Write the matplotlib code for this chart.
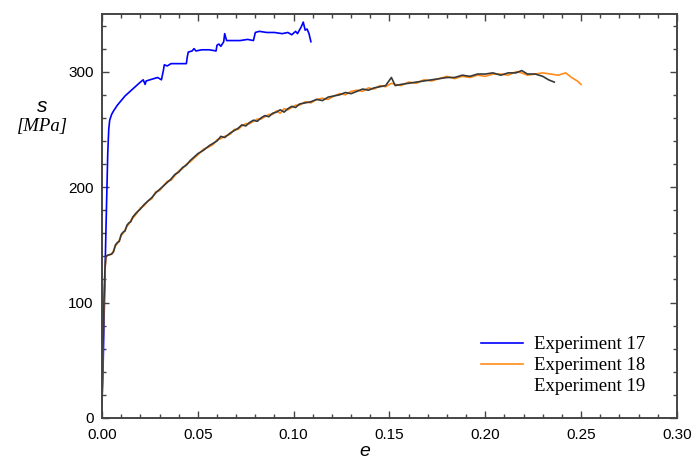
import matplotlib
matplotlib.use("Agg")
import matplotlib.pyplot as plt
from matplotlib.lines import Line2D
from matplotlib.ticker import MultipleLocator

# Experiment 17 (blue)
e17 = [0.000, 0.0005, 0.001, 0.0015, 0.002, 0.0025, 0.003, 0.0035, 0.004, 0.005,
       0.006, 0.008, 0.010, 0.012, 0.014, 0.016, 0.018, 0.020, 0.0215, 0.0225,
       0.023, 0.025, 0.027, 0.029, 0.031, 0.032, 0.0325, 0.034, 0.036, 0.040,
       0.044, 0.0445, 0.045, 0.047, 0.048, 0.049, 0.052, 0.056, 0.0595, 0.060,
       0.061, 0.062, 0.0635, 0.064, 0.065, 0.068, 0.072, 0.076, 0.079, 0.080,
       0.082, 0.086, 0.090, 0.094, 0.097, 0.099, 0.101, 0.102, 0.104, 0.105,
       0.106, 0.107, 0.108, 0.109]
s17 = [15, 40, 80, 120, 160, 195, 230, 250, 258, 263,
       266, 271, 275, 279, 282, 285, 288, 291, 293, 289,
       292, 293, 294, 295, 293, 301, 306, 305, 307, 307,
       307, 313, 317, 318, 320, 318, 319, 319, 318, 323,
       324, 322, 326, 333, 327, 327, 327, 328, 327, 334,
       335, 334, 334, 333, 334, 332, 335, 333, 339, 343,
       336, 337, 333, 326]

# Experiment 18 (orange)
e18 = [0.000, 0.0005, 0.001, 0.0015, 0.002, 0.003, 0.005, 0.006, 0.007, 0.008,
       0.009, 0.010, 0.011, 0.012, 0.013, 0.014, 0.015, 0.016, 0.018, 0.020,
       0.022, 0.024, 0.026, 0.028, 0.030, 0.032, 0.034, 0.036, 0.038, 0.040,
       0.042, 0.044, 0.046, 0.048, 0.050, 0.053, 0.056, 0.058, 0.060, 0.062,
       0.064, 0.067, 0.069, 0.071, 0.073, 0.075, 0.077, 0.079, 0.081, 0.083,
       0.085, 0.087, 0.089, 0.091, 0.093, 0.095, 0.097, 0.099, 0.101, 0.103,
       0.106, 0.109, 0.112, 0.115, 0.118, 0.121, 0.124, 0.127, 0.130, 0.133,
       0.136, 0.139, 0.142, 0.145, 0.148, 0.151, 0.153, 0.156, 0.160, 0.164,
       0.168, 0.172, 0.176, 0.180, 0.184, 0.188, 0.192, 0.196, 0.200, 0.204,
       0.208, 0.212, 0.216, 0.219, 0.222, 0.226, 0.230, 0.234, 0.238, 0.242,
       0.245, 0.248, 0.250]
s18 = [12, 58, 98, 126, 139, 141, 142, 145, 149, 151,
       154, 158, 160, 163, 166, 168, 171, 173, 177, 182,
       184, 188, 190, 196, 197, 201, 205, 206, 210, 214,
       216, 220, 222, 225, 228, 233, 235, 237, 241, 242,
       244, 246, 250, 250, 253, 255, 255, 257, 259, 259,
       261, 263, 263, 266, 264, 268, 267, 269, 271, 271,
       274, 273, 276, 277, 276, 279, 281, 280, 283, 284,
       283, 286, 285, 288, 287, 290, 289, 288, 291, 290,
       293, 292, 294, 296, 294, 296, 295, 297, 296, 298,
       298, 297, 300, 299, 297, 298, 299, 298, 297, 299,
       295, 292, 289]

# Experiment 19 (dark gray)
e19 = [0.000, 0.0005, 0.001, 0.0015, 0.002, 0.003, 0.005, 0.006, 0.007, 0.008,
       0.009, 0.010, 0.011, 0.012, 0.013, 0.014, 0.015, 0.016, 0.018, 0.020,
       0.022, 0.024, 0.026, 0.028, 0.030, 0.032, 0.034, 0.036, 0.038, 0.040,
       0.042, 0.044, 0.046, 0.048, 0.050, 0.053, 0.056, 0.058, 0.060, 0.062,
       0.064, 0.067, 0.069, 0.071, 0.073, 0.075, 0.077, 0.079, 0.081, 0.083,
       0.085, 0.087, 0.089, 0.091, 0.093, 0.095, 0.097, 0.099, 0.101, 0.103,
       0.106, 0.109, 0.112, 0.115, 0.118, 0.121, 0.124, 0.127, 0.130, 0.133,
       0.136, 0.139, 0.142, 0.145, 0.148, 0.151, 0.153, 0.156, 0.160, 0.164,
       0.168, 0.172, 0.176, 0.180, 0.184, 0.188, 0.192, 0.196, 0.200, 0.204,
       0.208, 0.212, 0.216, 0.219, 0.222, 0.226, 0.230, 0.233, 0.236]
s19 = [15, 60, 100, 128, 140, 141, 142, 144, 150, 152,
       153, 159, 161, 162, 167, 169, 170, 174, 178, 181,
       185, 188, 191, 195, 198, 201, 204, 207, 211, 213,
       217, 219, 223, 226, 229, 232, 236, 238, 240, 244,
       243, 247, 249, 251, 254, 253, 256, 258, 257, 260,
       262, 261, 264, 265, 267, 265, 268, 270, 269, 272,
       273, 274, 276, 275, 278, 279, 280, 282, 281, 283,
       285, 284, 286, 287, 288, 295, 288, 289, 290, 291,
       292, 293, 294, 295, 295, 297, 296, 298, 298, 299,
       297, 299, 299, 301, 298, 298, 296, 293, 291]

labels = ["Experiment 17", "Experiment 18", "Experiment 19"]
colors = ["#0000ff", "#ff8c1a", "#383838"]

fig = plt.figure(figsize=(6.95, 4.61), dpi=100)
ax = fig.add_axes([0.1468, 0.0933, 0.8272, 0.8763])

ax.plot(e17, s17, color=colors[0], lw=1.2)
ax.plot(e18, s18, color=colors[1], lw=1.2)
ax.plot(e19, s19, color=colors[2], lw=1.2)

ax.set_xlim(0, 0.30)
ax.set_ylim(0, 350)
ax.xaxis.set_major_locator(MultipleLocator(0.05))
ax.xaxis.set_minor_locator(MultipleLocator(0.01))
ax.yaxis.set_major_locator(MultipleLocator(100))
ax.yaxis.set_minor_locator(MultipleLocator(20))
ax.xaxis.set_major_formatter(matplotlib.ticker.FormatStrFormatter("%.2f"))

ax.tick_params(which="both", direction="in", top=True, right=True,
               colors="#444444", labelcolor="black", labelsize=11, width=1)
ax.tick_params(which="major", length=5)
ax.tick_params(which="minor", length=3)
ax.tick_params(axis="y", which="major", pad=6)
ax.tick_params(axis="x", which="major", pad=7)
for lab in ax.get_xticklabels() + ax.get_yticklabels():
    lab.set_family("Liberation Sans")
for sp in ax.spines.values():
    sp.set_color("#444444")
    sp.set_linewidth(1.4)

fig.text(42 / 695, 1 - 106 / 461, "s", ha="center", va="center",
         family="Liberation Sans", style="italic", fontsize=15)
fig.text(42 / 695, 1 - 127 / 461, "[MPa]", ha="center", va="center",
         family="Liberation Serif", style="italic", fontsize=13.5)
fig.text(365 / 695, 1 - 451 / 461, "e", ha="center", va="center",
         family="Liberation Sans", style="italic", fontsize=14)

handles = [Line2D([], [], color=colors[0], lw=1.2),
           Line2D([], [], color=colors[1], lw=1.2),
           Line2D([], [], color="none", lw=1.2)]
ax.legend(handles, labels, loc="lower right", bbox_to_anchor=(0.974, 0.015),
          frameon=False, prop={"family": "Liberation Serif", "size": 13.5},
          handlelength=2.2, handletextpad=0.6, labelspacing=0.2)

fig.savefig("out.png", dpi=100)
